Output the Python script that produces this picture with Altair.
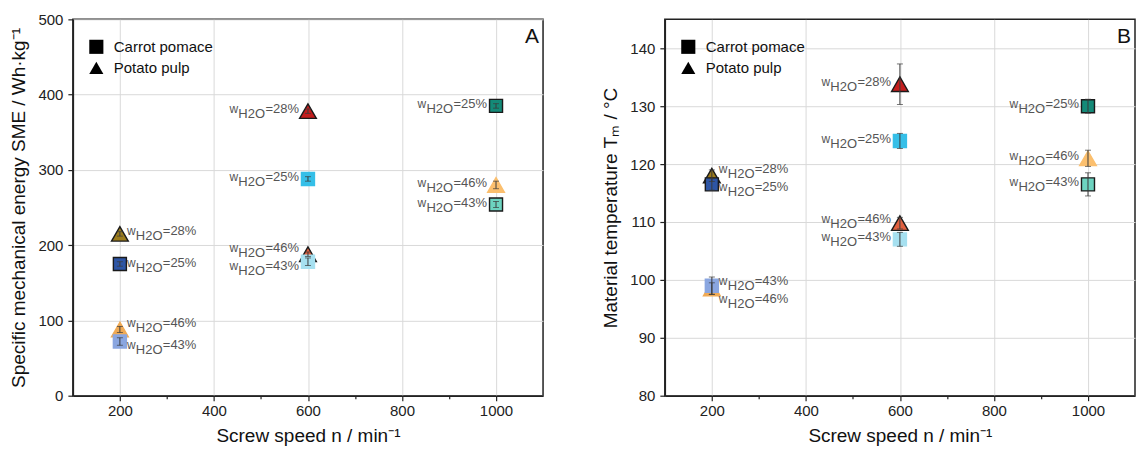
import altair as alt
import pandas as pd

# ---------------- data ----------------
speed = [200, 200, 200, 200, 600, 600, 600, 600, 1000, 1000, 1000]
material = ["Potato pulp", "Carrot pomace", "Potato pulp", "Carrot pomace",
            "Potato pulp", "Carrot pomace", "Potato pulp", "Carrot pomace",
            "Carrot pomace", "Potato pulp", "Carrot pomace"]
water = [28, 25, 46, 43, 28, 25, 46, 43, 25, 46, 43]
sme = [215, 175, 88, 72, 378, 288, 188, 178, 385, 280, 254]
sme_err = [3, 3, 4, 5, 3, 3, 3, 5, 3, 5, 4]
tm = [118.0, 116.5, 98.5, 99.0, 133.8, 124.0, 109.8, 107.0, 130.0, 121.0, 116.5]
tm_err = [1.0, 1.0, 1.0, 1.5, 3.5, 1.3, 1.0, 1.2, 1.2, 1.4, 2.0]

# ---------------- styling ----------------
fill_colors = ["#9c7c1c", "#2d55a5", "#f0aa55", "#8aa6e0",
               "#c41e1e", "#35bfe8", "#e0603f", "#a6e0f0",
               "#148a78", "#fbbf6e", "#6dd3c0"]
outlined = [True, True, False, False, True, False, True, False, True, False, True]
label_side = ["right"] * 4 + ["left"] * 7
# vertical label shifts in pixels (positive = down)
sme_label_dy = [-1, 1, -4, 6, 0, 0, -4, 6, 0, 0, 0]
tm_label_dy = [-5, 5, 12, -3, 0, 0, -2, 0, 0, 0, 0]

FONT = "Liberation Sans"
LABEL_COLOR = "#555555"
W, H = 471, 377


def make_df(values, errs, dys, ydomain):
    per_px = (ydomain[1] - ydomain[0]) / H
    df = pd.DataFrame({
        "speed": speed, "material": material, "water": water,
        "value": values, "err": errs, "fill": fill_colors,
        "stroke": ["#1a1a1a" if o else c for o, c in zip(outlined, fill_colors)],
        "side": label_side, "ldy": dys,
    })
    df["lo"] = df["value"] - df["err"]
    df["hi"] = df["value"] + df["err"]
    df["ly"] = df["value"] - df["ldy"] * per_px
    df["pct"] = "=" + df["water"].astype(str) + "%"
    df["sz"] = [170 if m == "Carrot pomace" else 280 for m in df["material"]]
    # triangles first, squares on top
    df["ord"] = (df["material"] == "Carrot pomace").astype(int)
    df = df.sort_values("ord", kind="stable").reset_index(drop=True)
    return df


def panel(df, ytitle, ydomain, ystep, ymajor, letter):
    xscale = alt.Scale(domain=[100, 1100], nice=False, zero=False)
    yscale = alt.Scale(domain=ydomain, nice=False, zero=False)
    yvals = []
    v = ydomain[0]
    while v <= ydomain[1] + 1e-9:
        yvals.append(v)
        v += ystep
    xaxis = alt.Axis(
        values=list(range(200, 1001, 100)),
        labelExpr="datum.value % 200 === 0 ? datum.label : ''",
        tickSize={"condition": {"test": "datum.value % 200 === 0", "value": 5}, "value": 3},
        gridOpacity={"condition": {"test": "datum.value % 200 === 0", "value": 1}, "value": 0},
        title="Screw speed n / min⁻¹", format="d", labelPadding=3, titlePadding=8,
    )
    yaxis = alt.Axis(
        values=yvals,
        labelExpr=f"datum.value % {ymajor} === 0 ? datum.label : ''",
        tickSize={"condition": {"test": f"datum.value % {ymajor} === 0", "value": 5}, "value": 3},
        gridOpacity={"condition": {"test": f"datum.value % {ymajor} === 0", "value": 1}, "value": 0},
        title=ytitle, format="d", labelPadding=5, titlePadding=9,
    )
    base = alt.Chart(df)
    x = alt.X("speed:Q", scale=xscale, axis=xaxis)
    y = alt.Y("value:Q", scale=yscale, axis=yaxis)

    points = base.mark_point(filled=True, opacity=1, strokeWidth=1.4).encode(
        x=x, y=y,
        shape=alt.Shape("material:N",
                        scale=alt.Scale(domain=["Carrot pomace", "Potato pulp"],
                                        range=["square", "triangle-up"]),
                        legend=alt.Legend(title=None, orient="none", legendX=16, legendY=20,
                                          labelFontSize=15, labelFont=FONT, labelColor="#111",
                                          symbolFillColor="black", symbolStrokeColor="black",
                                          symbolSize=200, rowPadding=5, labelOffset=10,
                                          symbolStrokeWidth=0, padding=0)),
        fill=alt.Fill("fill:N", scale=None),
        stroke=alt.Stroke("stroke:N", scale=None),
        size=alt.Size("sz:Q", scale=None),
        order=alt.Order("ord:Q"),
    )
    err = base.mark_rule(color="#3a3a3a", strokeWidth=1).encode(
        x="speed:Q", y=alt.Y("lo:Q"), y2="hi:Q")
    cap_lo = base.mark_tick(color="#3a3a3a", thickness=1, size=6, orient="horizontal").encode(
        x="speed:Q", y="lo:Q")
    cap_hi = base.mark_tick(color="#3a3a3a", thickness=1, size=6, orient="horizontal").encode(
        x="speed:Q", y="hi:Q")

    layers = [points, err, cap_lo, cap_hi]
    # labels w_{H2O}=xx%
    for side in ["right", "left"]:
        sub = base.transform_filter(alt.datum.side == side)
        if side == "right":
            pieces = [("w", 7, -2, 12, "left"), ("H2O", 16, 3, 13, "left"), ("pct", 43, -2, 13, "left")]
        else:
            pieces = [("pct", -9, -2, 13, "right"), ("H2O", -43, 3, 13, "right"), ("w", -70, -2, 12, "right")]
        for kind, dx, dy, fs, al in pieces:
            if kind == "pct":
                txt = alt.Text("pct:N")
            else:
                txt = alt.value(kind)
            layers.append(sub.mark_text(dx=dx, dy=dy, fontSize=fs, font=FONT, color=LABEL_COLOR,
                                        align=al, baseline="middle").encode(
                x="speed:Q", y="ly:Q", text=txt))
    letter_mark = alt.Chart(pd.DataFrame({"t": [letter]})).mark_text(
        fontSize=21, font=FONT, color="#111", align="right", baseline="top").encode(
        x=alt.value(W - 4), y=alt.value(7), text="t:N")
    layers.append(letter_mark)
    return alt.layer(*layers).properties(width=W, height=H)


dfA = make_df(sme, sme_err, sme_label_dy, [0, 500])
dfB = make_df(tm, tm_err, tm_label_dy, [80, 145])

A = panel(dfA, "Specific mechanical energy SME / Wh·kg⁻¹", [0, 500], 50, 100, "A")
B = panel(dfB, "Material temperature Tₘ / °C", [80, 145], 5, 10, "B")

chart = alt.hconcat(A, B, spacing=57).resolve_scale(
    x="independent", y="independent", shape="independent"
).resolve_legend(shape="independent").properties(
    padding={"left": 9, "top": 11, "right": 0, "bottom": 0}
).configure_view(stroke="#222", strokeWidth=1.5).configure_axis(
    labelFont=FONT, titleFont=FONT, labelFontSize=15, titleFontSize=19,
    labelColor="#222", titleColor="#111", titleFontWeight="normal",
    domainColor="#222", domainWidth=1.5, tickColor="#222", tickWidth=1.2,
    gridColor="#d9d9d9", gridWidth=1,
)

chart.save("out.html", embed_options={"renderer": "svg", "actions": False})
